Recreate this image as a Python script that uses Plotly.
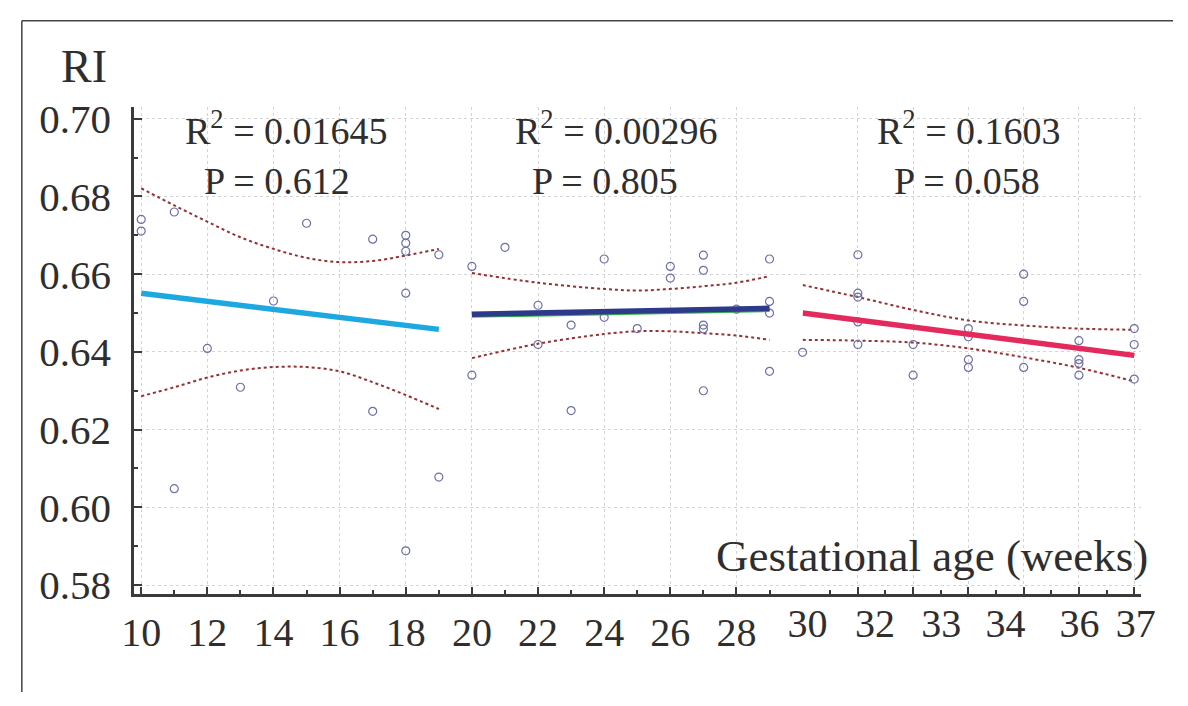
import plotly.graph_objects as go

W, H = 1188, 706

# ---------------- data ----------------
# Panel 1: 10-19 weeks
p1_weeks = [10, 10, 11, 15, 17, 18, 18, 18, 19, 18, 14, 12, 13, 17, 11, 19, 18]
p1_ri = [0.6741, 0.6711, 0.6760, 0.6731, 0.6690, 0.6700, 0.6680, 0.6659, 0.6650,
         0.6551, 0.6531, 0.6409, 0.6309, 0.6247, 0.6048, 0.6078, 0.5888]
p1_fit_x = [10, 19]
p1_fit_y = [0.6551, 0.6458]
p1_ci_x = [10, 11, 12, 13, 14, 15, 16, 17, 18, 19]
p1_ci_hi = [0.6821, 0.6777, 0.6735, 0.6695, 0.6665, 0.6642, 0.6631, 0.6634, 0.6648, 0.6665]
p1_ci_lo = [0.6286, 0.6309, 0.6334, 0.6352, 0.6361, 0.6361, 0.6350, 0.6322, 0.6289, 0.6253]

# Panel 2: 20-29 weeks
p2_weeks = [20, 20, 21, 22, 22, 23, 23, 24, 24, 25, 26, 26, 27, 27, 27, 27, 27, 28, 29, 29, 29, 29]
p2_ri = [0.6620, 0.6340, 0.6669, 0.6520, 0.6419, 0.6469, 0.6249, 0.6639, 0.6489, 0.6460,
         0.6620, 0.6590, 0.6649, 0.6610, 0.6469, 0.6459, 0.6300, 0.6510, 0.6639, 0.6530,
         0.6500, 0.6350]
p2_fit_x = [20, 29]
p2_fit_y = [0.6497, 0.6512]
p2_ci_x = [20, 22, 24, 25, 26, 27, 28, 29]
p2_ci_hi = [0.6603, 0.6578, 0.6562, 0.6558, 0.6562, 0.6569, 0.6578, 0.6595]
p2_ci_lo = [0.6384, 0.6421, 0.6446, 0.6453, 0.6453, 0.6448, 0.6442, 0.6431]

# Panel 3: seven week columns
p3_weeks = [30, 31, 31, 31, 31, 31, 32, 32, 33, 33, 33, 33, 34, 34, 34, 35, 35, 35, 35, 36, 36, 36]
p3_ri = [0.6399, 0.6650, 0.6551, 0.6541, 0.6477, 0.6419, 0.6419, 0.6340, 0.6460, 0.6439,
         0.6380, 0.6360, 0.6600, 0.6530, 0.6360, 0.6429, 0.6380, 0.6370, 0.6340, 0.6460,
         0.6419, 0.6330]
p3_fit_x = [30, 36]
p3_fit_y = [0.6500, 0.6391]
p3_ci_x = [30, 31, 32, 33, 34, 35, 36]
p3_ci_hi = [0.6572, 0.6541, 0.6508, 0.6481, 0.6468, 0.6460, 0.6457]
p3_ci_lo = [0.6431, 0.6429, 0.6424, 0.6409, 0.6386, 0.6359, 0.6324]

# tick labels
x1_ticks = [10, 12, 14, 16, 18, 20, 22, 24, 26, 28]
x1_labels = ["10", "12", "14", "16", "18", "20", "22", "24", "26", "28"]
x1_minor = [11, 13, 15, 17, 19, 21, 23, 25, 27, 29]
x3_ticks = [30, 31, 32, 33, 34, 35, 36]
x3_minor = [30.5, 31.5, 32.5, 33.5, 34.5, 35.5]
x3_label_pos = [30.09, 31.31, 32.51, 33.67, 35.01, 36.03]
x3_labels = ["30", "32", "33", "34", "36", "37"]
y_ticks = [0.58, 0.60, 0.62, 0.64, 0.66, 0.68, 0.70]
y_minor = [0.59, 0.61, 0.63, 0.65, 0.67, 0.69]

stats = [("R<sup>2</sup> = 0.01645", "P = 0.612", 279, 269),
         ("R<sup>2</sup> = 0.00296", "P = 0.805", 617, 605),
         ("R<sup>2</sup> = 0.1603", "P = 0.058", 979, 977)]

# ---------------- styles ----------------
FONT = "Liberation Serif"
TXT = "#2e2e2e"
AX = "#3a3a3a"
GRID = "#d4d4d4"
MK = dict(symbol="circle-open", size=8, color="#6d70a6", line=dict(width=1.2))
CI = dict(color="#963030", width=2, dash="dot")


def px(x):
    return x / W


def py(y):
    return 1 - y / H


fig = go.Figure()


def add_panel(xs, ys, fx, fy, cx, chi, clo, color, xa):
    fig.add_trace(go.Scatter(x=cx, y=chi, mode="lines", line=CI, line_shape="spline",
                             xaxis=xa, yaxis="y", showlegend=False, hoverinfo="skip"))
    fig.add_trace(go.Scatter(x=cx, y=clo, mode="lines", line=CI, line_shape="spline",
                             xaxis=xa, yaxis="y", showlegend=False, hoverinfo="skip"))
    fig.add_trace(go.Scatter(x=xs, y=ys, mode="markers", marker=MK, cliponaxis=False,
                             xaxis=xa, yaxis="y", showlegend=False))
    fig.add_trace(go.Scatter(x=fx, y=fy, mode="lines", line=dict(color=color, width=5.5),
                             xaxis=xa, yaxis="y", showlegend=False))


add_panel(p1_weeks, p1_ri, p1_fit_x, p1_fit_y, p1_ci_x, p1_ci_hi, p1_ci_lo, "#1ea8e0", "x")
fig.add_trace(go.Scatter(x=p2_fit_x, y=[v - 0.0003 for v in p2_fit_y], mode="lines",
                         line=dict(color="#3cb44b", width=5), xaxis="x", yaxis="y",
                         showlegend=False, hoverinfo="skip"))
add_panel(p2_weeks, p2_ri, p2_fit_x, p2_fit_y, p2_ci_x, p2_ci_hi, p2_ci_lo, "#2d3a8c", "x")
add_panel(p3_weeks, p3_ri, p3_fit_x, p3_fit_y, p3_ci_x, p3_ci_hi, p3_ci_lo, "#e42a5c", "x2")

# invisible trace so that the label axis x3 is drawn
fig.add_trace(go.Scatter(x=[30.5], y=[0.6], mode="markers", marker=dict(opacity=0),
                         xaxis="x3", yaxis="y", showlegend=False, hoverinfo="skip"))

left, mid, right = 122, 808, 1155
top, bottom = 100, 604

xtickfont = dict(family=FONT, size=40, color=TXT)
ytickfont = dict(family=FONT, size=41, color=TXT)

fig.update_layout(
    width=W, height=H,
    margin=dict(l=0, r=0, t=0, b=0),
    paper_bgcolor="white", plot_bgcolor="white",
    font=dict(family=FONT, color=TXT),
    xaxis=dict(domain=[px(left), px(mid)], range=[9.78, 30], anchor="y",
               tickmode="array", tickvals=x1_ticks, ticktext=x1_labels,
               ticks="inside", ticklen=7, tickwidth=2, tickcolor=AX,
               showline=True, linecolor=AX, linewidth=2.5,
               showgrid=True, gridcolor=GRID, griddash="dot", gridwidth=1,
               zeroline=False, tickfont=xtickfont, ticklabelstandoff=2,
               minor=dict(tickmode="array", tickvals=x1_minor, ticks="inside",
                          ticklen=4, tickwidth=1.5, tickcolor=AX, showgrid=False)),
    xaxis2=dict(domain=[px(mid), px(right)], range=[30, 36.12], anchor="y",
                tickmode="array", tickvals=x3_ticks, showticklabels=False,
                ticks="inside", ticklen=7, tickwidth=2, tickcolor=AX,
                showline=True, linecolor=AX, linewidth=2.5,
                showgrid=True, gridcolor=GRID, griddash="dot", gridwidth=1,
                zeroline=False,
                minor=dict(tickmode="array", tickvals=x3_minor, ticks="inside",
                           ticklen=4, tickwidth=1.5, tickcolor=AX, showgrid=False)),
    xaxis3=dict(overlaying="x2", range=[30, 36.12], anchor="y",
                tickmode="array", tickvals=x3_label_pos, ticktext=x3_labels,
                ticks="", showline=False, showgrid=False, zeroline=False,
                tickfont=xtickfont, ticklabelstandoff=2),
    yaxis=dict(domain=[py(bottom), py(top)], range=[0.5778, 0.7029], anchor="x",
               tickmode="array", tickvals=y_ticks, ticktext=[f"{v:.2f}" for v in y_ticks],
               ticks="inside", ticklen=8, tickwidth=2, tickcolor=AX,
               showline=True, linecolor=AX, linewidth=2.5,
               showgrid=True, gridcolor=GRID, griddash="dot", gridwidth=1,
               zeroline=False, tickfont=ytickfont, ticklabelstandoff=12,
               minor=dict(tickmode="array", tickvals=y_minor, ticks="inside",
                          ticklen=4, tickwidth=1.5, tickcolor=AX, showgrid=False)),
)

ann = []
ann.append(dict(text="RI", x=px(71), y=py(58), xref="paper", yref="paper",
                showarrow=False, font=dict(family=FONT, size=46, color=TXT),
                xanchor="center", yanchor="middle"))
for r2, p, cxr, cxp in stats:
    ann.append(dict(text=r2, x=px(cxr), y=py(121), xref="paper", yref="paper",
                    showarrow=False, font=dict(family=FONT, size=38, color=TXT),
                    xanchor="center", yanchor="middle"))
    ann.append(dict(text=p, x=px(cxp), y=py(176), xref="paper", yref="paper",
                    showarrow=False, font=dict(family=FONT, size=38, color=TXT),
                    xanchor="center", yanchor="middle"))
ann.append(dict(text="Gestational age (weeks)", x=px(941), y=py(565),
                xref="paper", yref="paper", showarrow=False,
                font=dict(family=FONT, size=45, color=TXT),
                xanchor="center", yanchor="middle"))
fig.update_layout(annotations=ann)

# frame: only the top and left edges are visible in the picture
fig.add_shape(type="line", xref="paper", yref="paper", x0=px(7), x1=1, y0=py(10), y1=py(10),
              line=dict(color="#444444", width=1.5), layer="above")
fig.add_shape(type="line", xref="paper", yref="paper", x0=px(7), x1=px(7), y0=0, y1=py(10),
              line=dict(color="#444444", width=1.5), layer="above")

# the page should be exactly the figure: no body margin, no scrollbars, no mode bar
fig.write_html("out.html", config={"displayModeBar": False}, post_script=(
    "document.documentElement.style.margin='0';document.body.style.margin='0';"
    "document.documentElement.style.overflow='hidden';document.body.style.overflow='hidden';"))
